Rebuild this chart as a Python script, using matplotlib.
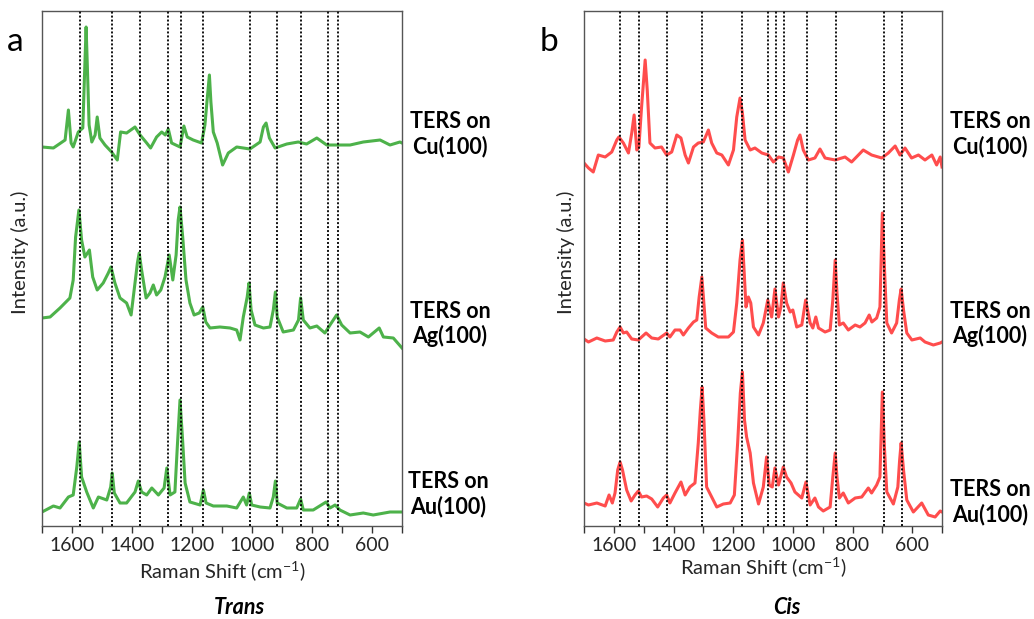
import matplotlib
matplotlib.use("Agg")
import matplotlib.pyplot as plt
from matplotlib.ticker import MultipleLocator, FixedLocator

plt.rcParams['font.family'] = ['Lato', 'DejaVu Sans']
plt.rcParams['mathtext.fontset'] = 'custom'
plt.rcParams['mathtext.rm'] = 'Lato'

# ---------------- data (Raman shift in cm^-1, intensity in a.u. incl. stacking offset) ----------------
trans_cu_x = [1700, 1662, 1623, 1612, 1603, 1596, 1579, 1564, 1559, 1553, 1549, 1543, 1534, 1523, 1516, 1507, 1490, 1468, 1449, 1438,
              1418, 1390, 1373, 1351, 1338, 1318, 1301, 1289, 1279, 1268, 1240, 1227, 1216, 1196, 1168, 1157, 1149, 1142, 1137, 1129,
              1116, 1098, 1079, 1051, 1007, 973, 962, 953, 942, 923, 884, 846, 818, 784, 751, 718, 673, 629, 573, 540, 507, 500]
trans_cu_y = [380, 379, 387, 417, 384, 380, 395, 399, 445, 500, 462, 402, 385, 392, 410, 389, 382, 375, 367, 395,
              394, 400, 392, 384, 379, 390, 395, 392, 398, 384, 380, 401, 390, 387, 384, 402, 429, 452, 425, 395,
              384, 362, 374, 380, 378, 385, 400, 404, 389, 379, 383, 385, 383, 389, 382, 382, 382, 385, 387, 382, 385, 384]

trans_ag_x = [1700, 1673, 1640, 1607, 1596, 1588, 1577, 1568, 1557, 1542, 1531, 1516, 1496, 1479, 1470, 1457, 1440, 1418, 1403, 1390,
              1382, 1376, 1368, 1353, 1340, 1329, 1318, 1304, 1290, 1276, 1264, 1253, 1246, 1240, 1231, 1220, 1207, 1193, 1176, 1164,
              1154, 1140, 1107, 1073, 1051, 1040, 1029, 1016, 1010, 1003, 990, 962, 940, 929, 922, 916, 896, 862, 845, 838,
              829, 807, 784, 757, 740, 718, 701, 673, 640, 612, 576, 562, 529, 500]
trans_ag_y = [209, 210, 219, 229, 247, 290, 317, 287, 270, 277, 250, 237, 244, 254, 260, 244, 229, 224, 212, 244,
              264, 274, 257, 229, 234, 242, 232, 237, 250, 272, 247, 272, 307, 320, 290, 247, 224, 212, 214, 220,
              205, 199, 200, 199, 197, 187, 210, 230, 244, 217, 202, 199, 200, 217, 235, 210, 195, 197, 207, 229,
              207, 199, 201, 194, 202, 212, 202, 194, 195, 190, 199, 190, 189, 179]

trans_au_x = [1700, 1662, 1640, 1612, 1596, 1584, 1576, 1568, 1551, 1529, 1512, 1484, 1471, 1466, 1459, 1440, 1418, 1390, 1379, 1368,
              1351, 1334, 1312, 1293, 1284, 1273, 1257, 1249, 1240, 1232, 1223, 1207, 1173, 1162, 1153, 1129, 1084, 1051, 1029, 1018,
              1009, 1001, 973, 940, 929, 922, 916, 884, 851, 838, 829, 796, 753, 740, 723, 707, 673, 629, 596, 540, 500]
trans_au_y = [15, 21, 19, 30, 32, 60, 85, 50, 35, 19, 30, 27, 40, 54, 34, 24, 24, 35, 46, 35,
              32, 39, 32, 39, 59, 32, 35, 80, 127, 90, 44, 25, 22, 37, 24, 21, 21, 19, 30, 22,
              34, 22, 20, 19, 30, 46, 24, 19, 19, 28, 17, 17, 25, 19, 22, 17, 12, 14, 12, 15, 15]

cis_cu_x = [1700, 1685, 1669, 1652, 1629, 1607, 1590, 1583, 1568, 1551, 1540, 1532, 1523, 1516, 1507, 1495, 1488, 1479, 1462, 1440,
            1423, 1406, 1389, 1375, 1361, 1350, 1333, 1317, 1300, 1283, 1272, 1255, 1238, 1216, 1199, 1188, 1177, 1169, 1160, 1143,
            1127, 1104, 1082, 1065, 1048, 1032, 1015, 998, 984, 976, 965, 948, 926, 909, 892, 858, 825, 803, 764, 736,
            702, 680, 657, 641, 624, 602, 579, 557, 534, 518, 506, 500]
cis_cu_y = [364, 359, 355, 372, 370, 375, 387, 390, 384, 374, 394, 412, 377, 380, 420, 467, 437, 384, 379, 380,
            372, 375, 392, 389, 372, 364, 380, 384, 385, 397, 384, 374, 372, 362, 377, 410, 429, 414, 387, 377,
            379, 374, 372, 365, 370, 369, 355, 372, 387, 392, 377, 367, 369, 378, 369, 367, 370, 365, 377, 372,
            369, 374, 381, 372, 379, 369, 372, 367, 372, 362, 370, 360]

cis_ag_x = [1700, 1685, 1657, 1629, 1602, 1590, 1579, 1568, 1557, 1540, 1518, 1492, 1473, 1451, 1423, 1412, 1395, 1378, 1367, 1350,
            1333, 1322, 1314, 1305, 1299, 1292, 1272, 1250, 1216, 1199, 1188, 1177, 1169, 1164, 1157, 1149, 1141, 1132, 1115, 1099,
            1084, 1071, 1060, 1048, 1040, 1032, 1021, 1009, 1000, 987, 970, 957, 942, 933, 923, 914, 892, 875, 866, 858,
            852, 844, 831, 814, 791, 775, 758, 744, 735, 719, 708, 700, 693, 685, 669, 652, 643, 637, 629, 618,
            601, 573, 557, 529, 506, 500]
cis_ag_y = [188, 185, 189, 186, 187, 195, 200, 194, 195, 188, 187, 194, 189, 188, 194, 190, 197, 197, 192, 199,
            205, 207, 230, 250, 227, 199, 194, 190, 190, 195, 224, 267, 287, 260, 220, 230, 224, 200, 192, 204,
            227, 210, 238, 210, 220, 244, 224, 215, 217, 200, 202, 227, 204, 199, 210, 199, 195, 197, 227, 267,
            234, 202, 204, 197, 202, 200, 204, 212, 205, 209, 220, 314, 260, 204, 194, 204, 227, 238, 217, 194,
            187, 189, 185, 182, 184, 185]

cis_au_x = [1700, 1685, 1657, 1629, 1616, 1605, 1596, 1587, 1579, 1571, 1557, 1542, 1529, 1518, 1507, 1490, 1473, 1453, 1434, 1423,
            1412, 1395, 1375, 1361, 1345, 1328, 1317, 1310, 1304, 1298, 1289, 1272, 1255, 1233, 1210, 1196, 1185, 1176, 1169, 1162,
            1155, 1143, 1132, 1115, 1099, 1088, 1079, 1069, 1060, 1048, 1032, 1021, 1006, 993, 970, 956, 942, 926, 914, 898,
            875, 866, 858, 852, 844, 831, 814, 791, 769, 747, 736, 719, 708, 700, 693, 685, 663, 648, 642, 637,
            629, 618, 596, 568, 546, 523, 506, 500]
cis_au_y = [24, 22, 24, 21, 32, 24, 34, 57, 65, 57, 37, 26, 32, 36, 30, 31, 28, 20, 29, 32,
            24, 34, 45, 32, 40, 44, 84, 117, 140, 107, 40, 30, 20, 23, 24, 32, 84, 134, 155, 107,
            90, 74, 44, 23, 40, 70, 42, 40, 59, 42, 60, 50, 44, 35, 29, 45, 22, 29, 20, 16,
            20, 50, 74, 50, 29, 34, 24, 29, 30, 39, 34, 42, 50, 135, 80, 35, 23, 40, 67, 84,
            57, 27, 15, 24, 12, 10, 16, 15]

trans_lines = [1573, 1466, 1374, 1279, 1237, 1162, 1007, 918, 836, 748, 713]
cis_lines = [1581, 1514, 1423, 1306, 1169, 1084, 1058, 1030, 953, 856, 696, 634]

tick_values = [1600, 1400, 1200, 1000, 800, 600]
series_labels = ["TERS on\nCu(100)", "TERS on\nAg(100)", "TERS on\nAu(100)"]
panel_titles = ["Trans", "Cis"]
panel_letters = ["a", "b"]

GREEN = "#4db24a"
RED = "#ff4d4d"

W, H = 1034, 619
fig = plt.figure(figsize=(W / 100, H / 100), dpi=100)


def px_axes(x0, y0, x1, y1):
    return fig.add_axes([x0 / W, 1 - y1 / H, (x1 - x0) / W, (y1 - y0) / H])


axL = px_axes(42, 11, 402, 526)
axR = px_axes(584, 11, 942, 526)

panels = [
    (axL, [(trans_cu_x, trans_cu_y), (trans_ag_x, trans_ag_y), (trans_au_x, trans_au_y)], trans_lines, GREEN),
    (axR, [(cis_cu_x, cis_cu_y), (cis_ag_x, cis_ag_y), (cis_au_x, cis_au_y)], cis_lines, RED),
]

for ax, spectra, lines, col in panels:
    for xs, ys in spectra:
        ax.plot(xs, ys, color=col, lw=2.2, solid_joinstyle='round', zorder=2)
    for v in lines:
        ax.axvline(v, color='black', ls=(0, (1.1, 1.1)), lw=1.3, zorder=3)
    ax.set_xlim(1700, 500)
    ax.set_ylim(1, 516)
    ax.set_yticks([])
    ax.xaxis.set_major_locator(FixedLocator(tick_values))
    ax.xaxis.set_minor_locator(MultipleLocator(100))
    ax.tick_params(axis='x', which='both', direction='out', length=5, width=1, colors='#333333',
                   labelsize=14, labelcolor='#262626', pad=3)
    for s in ax.spines.values():
        s.set_color('#555555')
        s.set_linewidth(1.0)

axL.set_xlabel(r"Raman Shift (cm$^{-1}$)", fontsize=14.5, color='#262626', labelpad=4)
axR.set_xlabel(r"Raman Shift (cm$^{-1}$)", fontsize=14.5, color='#262626', labelpad=1)

# y labels
fig.text(20 / W, 1 - 252 / H, "Intensity (a.u.)", rotation=90, ha='center', va='center', fontsize=14.5, color='#262626')
fig.text(566 / W, 1 - 252 / H, "Intensity (a.u.)", rotation=90, ha='center', va='center', fontsize=14.5, color='#262626')

# panel letters
fig.text(15 / W, 1 - 42 / H, panel_letters[0], fontsize=24, ha='center', va='center')
fig.text(549 / W, 1 - 42 / H, panel_letters[1], fontsize=24, ha='center', va='center')

# series labels
label_pos_L = [(450, 134), (450, 324), (448, 494)]
label_pos_R = [(990, 134), (990, 324), (990, 502)]
for (x, y), t in zip(label_pos_L + label_pos_R, series_labels + series_labels):
    fig.text(x / W, 1 - y / H, t, ha='center', va='center', fontsize=15.5, fontweight='bold',
             linespacing=1.2)

# panel titles
fig.text(239 / W, 1 - 608 / H, panel_titles[0], ha='center', va='center', fontsize=15.5,
         fontweight='bold', style='italic')
fig.text(787 / W, 1 - 608 / H, panel_titles[1], ha='center', va='center', fontsize=15.5,
         fontweight='bold', style='italic')

fig.savefig("out.png", dpi=100)
